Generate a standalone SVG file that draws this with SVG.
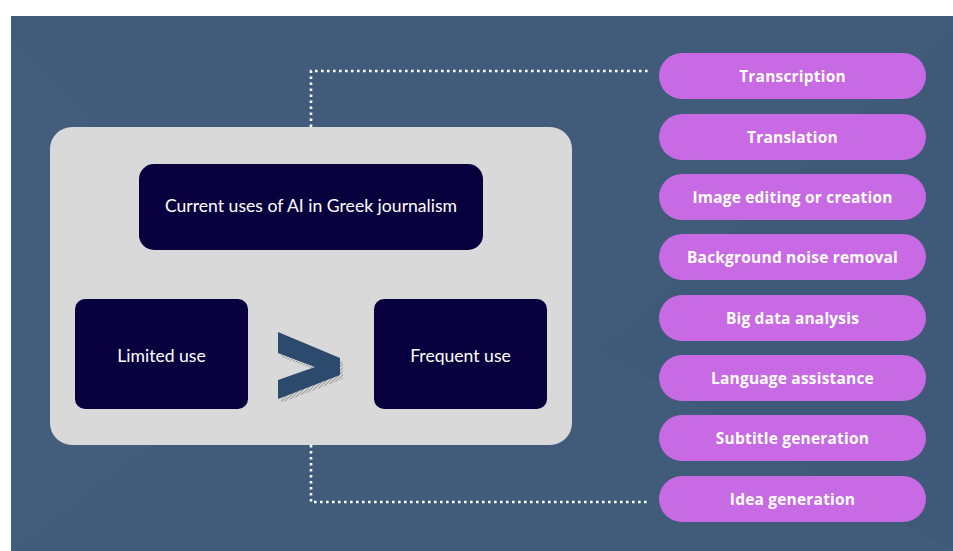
<svg xmlns="http://www.w3.org/2000/svg" width="953" height="551" viewBox="0 0 953 551">
  <defs>
    <style>
      .pill { fill: #c86ae3; }
      .pill-text { font-family: "Open Sans", "Lato", sans-serif; font-weight: bold; font-size: 15.5px; letter-spacing: 0.2px; fill: #ffffff; text-anchor: middle; dominant-baseline: central; }
      .dark { fill: #08003e; }
      .dark-text { font-family: "Lato", "Open Sans", sans-serif; font-size: 17.6px; fill: #ffffff; text-anchor: middle; dominant-baseline: central; }
      .dots { fill: none; stroke: #ffffff; stroke-width: 2.6; stroke-dasharray: 2.6 3.4; }
    </style>
    <pattern id="hatch" patternUnits="userSpaceOnUse" width="3.5" height="3.5">
      <path d="M0,3.5 L3.5,0" stroke="#6b6b6b" stroke-width="0.8"/>
    </pattern>
  </defs>

  <rect x="0" y="0" width="953" height="551" fill="#ffffff"/>
  <rect x="11" y="16" width="942" height="535" fill="#415b7b"/>
  <polygon points="11,40 300,330 11,551" fill="#ffffff" opacity="0.015"/>
  <polygon points="953,30 600,350 953,551" fill="#000000" opacity="0.02"/>

  <g id="connectors">
    <path class="dots" d="M311,127 V71 H648"/>
    <path class="dots" d="M311,445 V502 H648"/>
  </g>

  <g id="container">
    <rect x="50" y="127" width="522" height="318" rx="22" fill="#d9d9d9"/>
  </g>

  <g id="node-current">
    <rect class="dark" x="139" y="164" width="344" height="86" rx="15"/>
    <text class="dark-text" x="311" y="205">Current uses of AI in Greek journalism</text>
  </g>

  <g id="node-limited">
    <rect class="dark" x="75" y="299" width="173" height="110" rx="10"/>
    <text class="dark-text" x="161.5" y="355">Limited use</text>
  </g>

  <g id="node-frequent">
    <rect class="dark" x="374" y="299" width="173" height="110" rx="10"/>
    <text class="dark-text" x="460.5" y="355">Frequent use</text>
  </g>

  <g id="chevron">
    <polygon points="278,332 340,358 340,375 278,399 278,380 315,367 278,353" fill="url(#hatch)" transform="translate(3,4)"/>
    <polygon points="278,332 340,358 340,375 278,399 278,380 315,367 278,353" fill="#2b4a6e"/>
  </g>

  <g id="pill-1"><rect class="pill" x="659" y="53" width="267" height="46" rx="23"/><text class="pill-text" x="792.5" y="76">Transcription</text></g>
  <g id="pill-2"><rect class="pill" x="659" y="114" width="267" height="46" rx="23"/><text class="pill-text" x="792.5" y="137">Translation</text></g>
  <g id="pill-3"><rect class="pill" x="659" y="174" width="267" height="46" rx="23"/><text class="pill-text" x="792.5" y="197">Image editing or creation</text></g>
  <g id="pill-4"><rect class="pill" x="659" y="234" width="267" height="46" rx="23"/><text class="pill-text" x="792.5" y="257">Background noise removal</text></g>
  <g id="pill-5"><rect class="pill" x="659" y="295" width="267" height="46" rx="23"/><text class="pill-text" x="792.5" y="318">Big data analysis</text></g>
  <g id="pill-6"><rect class="pill" x="659" y="355" width="267" height="46" rx="23"/><text class="pill-text" x="792.5" y="378">Language assistance</text></g>
  <g id="pill-7"><rect class="pill" x="659" y="415" width="267" height="46" rx="23"/><text class="pill-text" x="792.5" y="438">Subtitle generation</text></g>
  <g id="pill-8"><rect class="pill" x="659" y="476" width="267" height="46" rx="23"/><text class="pill-text" x="792.5" y="499">Idea generation</text></g>
</svg>
